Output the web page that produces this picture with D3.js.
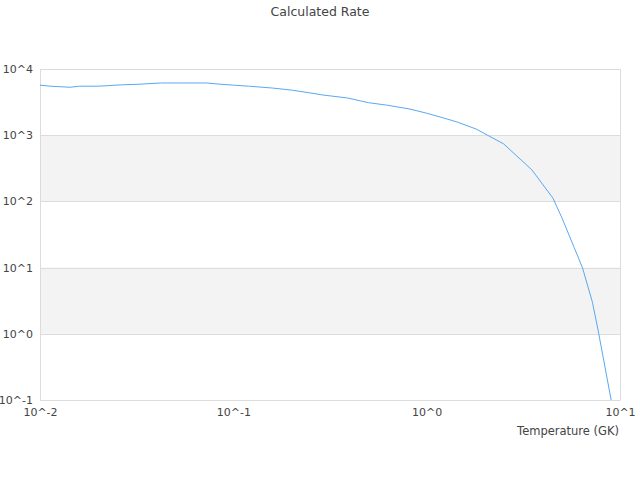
<!DOCTYPE html>
<html>
<head>
<meta charset="utf-8">
<script src="https://cdn.jsdelivr.net/npm/d3@7"></script>
<style>
  body { margin: 0; background: #fff; }
  svg { display: block; font-family: "DejaVu Sans", sans-serif; }
</style>
</head>
<body>
<div class="container"></div>
<script>
// temperature grid (GK) and the calculated rate
const temperatures = [0.01, 0.0113, 0.0143, 0.016, 0.02, 0.026, 0.033, 0.042, 0.053, 0.073,
  0.085, 0.1, 0.12, 0.16, 0.2, 0.25, 0.29, 0.39, 0.5, 0.62, 0.82, 1.0, 1.2, 1.44, 1.8,
  2.5, 3.5, 4.5, 5.0, 5.8, 6.4, 7.2, 7.7, 9.0];
const rates = [5700, 5500, 5300, 5500, 5500, 5750, 5900, 6150, 6150, 6150,
  5900, 5700, 5500, 5150, 4800, 4350, 4050, 3650, 3100, 2850, 2480, 2150, 1850, 1580, 1240,
  740, 300, 112, 57, 20, 9.9, 3.0, 1.14, 0.1];
const xTicks = [0.01, 0.1, 1, 10];
const xTickLabels = ["10^-2", "10^-1", "10^0", "10^1"];
const yTicks = [0.1, 1, 10, 100, 1000, 10000];
const yTickLabels = ["10^-1", "10^0", "10^1", "10^2", "10^3", "10^4"];

const w = 640;
const h = 480;
const margin = { top: 69, right: 20, bottom: 80, left: 40 };

const svg = d3.select(".container")
  .append("svg")
  .attr("width", w)
  .attr("height", h);

const xScale = d3.scaleLog()
  .domain([0.01, 10])
  .range([margin.left, w - margin.right]);

const yScale = d3.scaleLog()
  .domain([0.1, 10000])
  .range([h - margin.bottom, margin.top]);

// alternating grey bands between decades
const bands = [[1, 10], [100, 1000]];
svg.selectAll("rect.band")
  .data(bands)
  .enter()
  .append("rect")
  .attr("class", "band")
  .attr("x", margin.left)
  .attr("width", w - margin.right - margin.left)
  .attr("y", (d) => yScale(d[1]))
  .attr("height", (d) => yScale(d[0]) - yScale(d[1]))
  .attr("fill", "#f3f3f3");

// horizontal grid lines
svg.selectAll("line.grid")
  .data(yTicks)
  .enter()
  .append("line")
  .attr("class", "grid")
  .attr("x1", margin.left)
  .attr("x2", w - margin.right)
  .attr("y1", (d) => Math.round(yScale(d)) + 0.5)
  .attr("y2", (d) => Math.round(yScale(d)) + 0.5)
  .attr("stroke", "#dcdcdc");

// frame: left and right edges
[margin.left, w - margin.right].forEach((x) => {
  svg.append("line")
    .attr("x1", x + 0.5).attr("x2", x + 0.5)
    .attr("y1", margin.top).attr("y2", h - margin.bottom + 0.5)
    .attr("stroke", "#dcdcdc");
});

// y axis labels
const yAxis = d3.axisLeft(yScale)
  .tickValues(yTicks)
  .tickFormat((d, i) => yTickLabels[i])
  .tickSize(0)
  .tickPadding(7);

svg.append("g")
  .attr("transform", `translate(${margin.left},0)`)
  .call(yAxis)
  .call((g) => g.select(".domain").remove())
  .call((g) => g.selectAll("text")
    .attr("fill", "#444")
    .style("font-size", "11px")
    .style("font-family", "DejaVu Sans"));

// x axis labels
const xAxis = d3.axisBottom(xScale)
  .tickValues(xTicks)
  .tickFormat((d, i) => xTickLabels[i])
  .tickSize(0)
  .tickPadding(8);

svg.append("g")
  .attr("transform", `translate(0,${h - margin.bottom})`)
  .call(xAxis)
  .call((g) => g.select(".domain").remove())
  .call((g) => g.selectAll("text")
    .attr("fill", "#444")
    .style("font-size", "11px")
    .style("font-family", "DejaVu Sans"));

// rate curve
const points = temperatures.map((t, i) => [t, rates[i]]);
const line = d3.line()
  .x((d) => xScale(d[0]))
  .y((d) => yScale(d[1]));

svg.append("path")
  .datum(points)
  .attr("d", line)
  .attr("fill", "none")
  .attr("stroke", "#5aa8f2")
  .attr("stroke-width", 1);

// title and axis title
svg.append("text")
  .attr("x", w / 2)
  .attr("y", 16)
  .attr("text-anchor", "middle")
  .attr("fill", "#444")
  .style("font-size", "12.5px")
  .text("Calculated Rate");

svg.append("text")
  .attr("x", w - margin.right - 1)
  .attr("y", 435)
  .attr("text-anchor", "end")
  .attr("fill", "#444")
  .style("font-size", "11.5px")
  .text("Temperature (GK)");
</script>
</body>
</html>
